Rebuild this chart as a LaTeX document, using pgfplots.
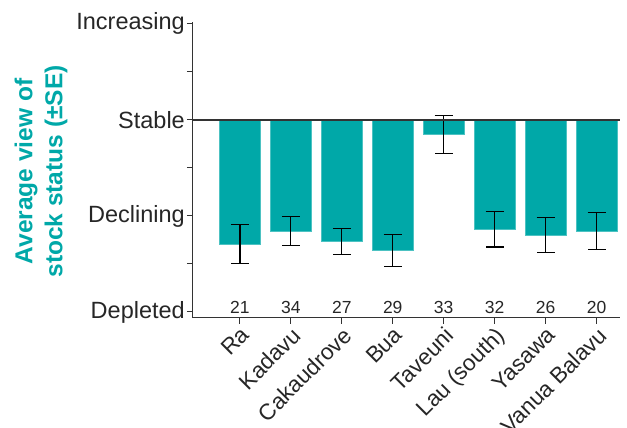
\documentclass[border=0pt]{standalone}
\usepackage{pgfplots}
\pgfplotsset{compat=1.18}
\usepackage{fontspec}
\setmainfont{Liberation Sans}
\definecolor{barteal}{RGB}{0,168,168}
\definecolor{axgray}{RGB}{51,51,51}
\begin{document}
\begin{tikzpicture}
\path[use as bounding box] (-193pt,-110pt) rectangle (434pt,318pt);
\begin{axis}[
  at={(0,0)}, anchor=south west,
  scale only axis, width=427pt, height=296pt,
  xmin=-0.92, xmax=7.46, ymin=-2.0625, ymax=1.02,
  axis x line*=bottom, axis y line*=left,
  axis line style={axgray, line width=1pt, -},
  tick align=outside, major tick length=6pt, minor tick length=6pt,
  every tick/.style={axgray, line width=1pt},
  xtick={0,...,7},
  xticklabels={Ra,Kadavu,Cakaudrove,Bua,Taveuni,Lau (south),Yasawa,Vanua Balavu},
  xticklabel style={rotate=45, anchor=north east, inner sep=1pt, font=\fontsize{22.5}{24}\selectfont, text=black!85},
  ytick={-2,-1,0,1},
  yticklabels={Depleted,Declining,Stable,Increasing},
  minor ytick={-1.5,-0.5,0.5},
  yticklabel style={font=\fontsize{23.5}{25}\selectfont, text=black!85, inner sep=2pt},
  ylabel={Average view of\\stock status (\textpm SE)},
  ylabel style={at={(axis description cs:-0.356,0.495)}, anchor=center, rotate=0, align=center,
    font=\fontsize{24.5}{30}\selectfont\bfseries, text=barteal},
  clip=false,
]
\addplot[ybar, bar width=41pt, fill=barteal, draw=barteal!70!white, line width=0.6pt,
  error bars/.cd, y dir=both, y explicit,
  error bar style={black, line width=1.3pt},
  error mark options={rotate=90, black, mark size=9pt, line width=1.3pt}]
  coordinates {
  (0,-1.292) +- (0,0.205)
  (1,-1.156) +- (0,0.151)
  (2,-1.264) +- (0,0.137)
  (3,-1.361) +- (0,0.168)
  (4,-0.153) +- (0,0.200)
  (5,-1.139) +- (0,0.184)
  (6,-1.198) +- (0,0.181)
  (7,-1.156) +- (0,0.190)
  };
\addplot[axgray, line width=1.2pt] coordinates {(-0.92,0) (7.46,0)};
\addplot[only marks, mark=none, nodes near coords, point meta=explicit symbolic,
  every node near coord/.style={anchor=center, font=\fontsize{17.5}{19}\selectfont, text=black!85}]
  table[meta=n] {
  x y n
  0 -1.955 21
  1 -1.955 34
  2 -1.955 27
  3 -1.955 29
  4 -1.955 33
  5 -1.955 32
  6 -1.955 26
  7 -1.955 20
  };
\end{axis}
\end{tikzpicture}
\end{document}
